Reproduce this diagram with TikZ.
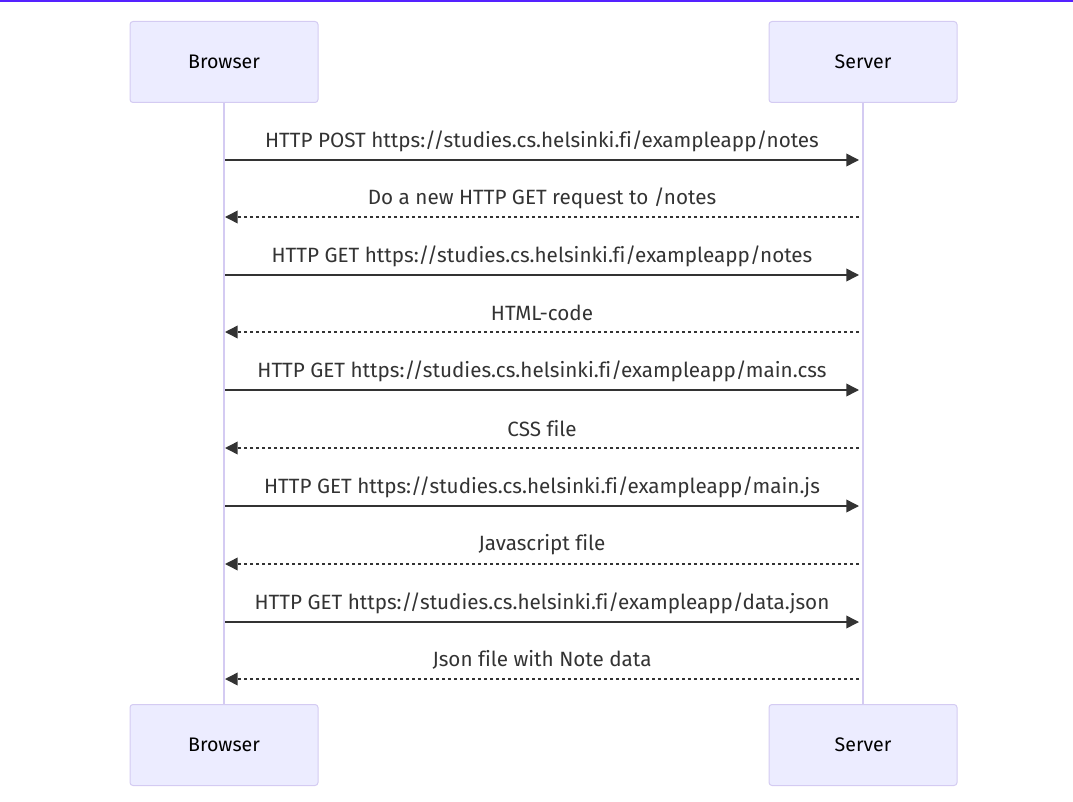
\documentclass[tikz,border=0pt]{standalone}
\usepackage{fontspec}
\setmainfont{Fira Sans}[Ligatures=CommonOff]
\usetikzlibrary{arrows.meta}

\definecolor{actorfill}{HTML}{ECECFF}
\definecolor{actorline}{HTML}{D4CBF2}
\definecolor{msgcolor}{HTML}{333333}
\definecolor{topline}{HTML}{5522FF}

\begin{document}
\begin{tikzpicture}[x=0.75pt,y=-0.75pt,
	actor/.style={draw=actorline, fill=actorfill, rounded corners=2.25pt, line width=0.75pt,
		minimum width=141pt, minimum height=60.75pt, inner sep=0pt,
		font=\fontsize{14.7}{17}\selectfont, text=black},
	lifeline/.style={draw=actorline, line width=1.5pt},
	request/.style={draw=msgcolor, line width=1.1pt, -{Triangle[length=9.5pt,width=9.5pt]}},
	reply/.style={request, dash pattern=on 2.25pt off 2.25pt},
	msglabel/.style={midway, yshift=14.3pt, text=msgcolor, font=\fontsize{15.5}{18}\selectfont}]

	% Page size
	\useasboundingbox (0,0) rectangle (1073,802);
	\fill[topline] (0,0) rectangle (1073,2);

	% Actors
	\node[actor] (browsertop) at (224,62) {Browser};
	\node[actor] (servertop) at (863,62) {Server};
	\node[actor] (browserbot) at (224,745) {Browser};
	\node[actor] (serverbot) at (863,745) {Server};

	% Lifelines
	\draw[lifeline] (browsertop.south) -- (browserbot.north);
	\draw[lifeline] (servertop.south) -- (serverbot.north);

	% Message end points
	\foreach \i/\y in {1/160,2/217,3/275,4/332,5/390,6/448,7/506,8/564,9/622,10/679}{
		\coordinate (b\i) at (225,\y);
		\coordinate (s\i) at (859,\y);
	}

	% Messages
	\draw[request] (b1) -- node[msglabel] {HTTP POST https://studies.cs.helsinki.fi/exampleapp/notes} (s1);
	\draw[reply] (s2) -- node[msglabel] {Do a new HTTP GET request to /notes} (b2);
	\draw[request] (b3) -- node[msglabel] {HTTP GET https://studies.cs.helsinki.fi/exampleapp/notes} (s3);
	\draw[reply] (s4) -- node[msglabel] {HTML-code} (b4);
	\draw[request] (b5) -- node[msglabel] {HTTP GET https://studies.cs.helsinki.fi/exampleapp/main.css} (s5);
	\draw[reply] (s6) -- node[msglabel] {CSS file} (b6);
	\draw[request] (b7) -- node[msglabel] {HTTP GET https://studies.cs.helsinki.fi/exampleapp/main.js} (s7);
	\draw[reply] (s8) -- node[msglabel] {Javascript file} (b8);
	\draw[request] (b9) -- node[msglabel] {HTTP GET https://studies.cs.helsinki.fi/exampleapp/data.json} (s9);
	\draw[reply] (s10) -- node[msglabel] {Json file with Note data} (b10);

\end{tikzpicture}
\end{document}
